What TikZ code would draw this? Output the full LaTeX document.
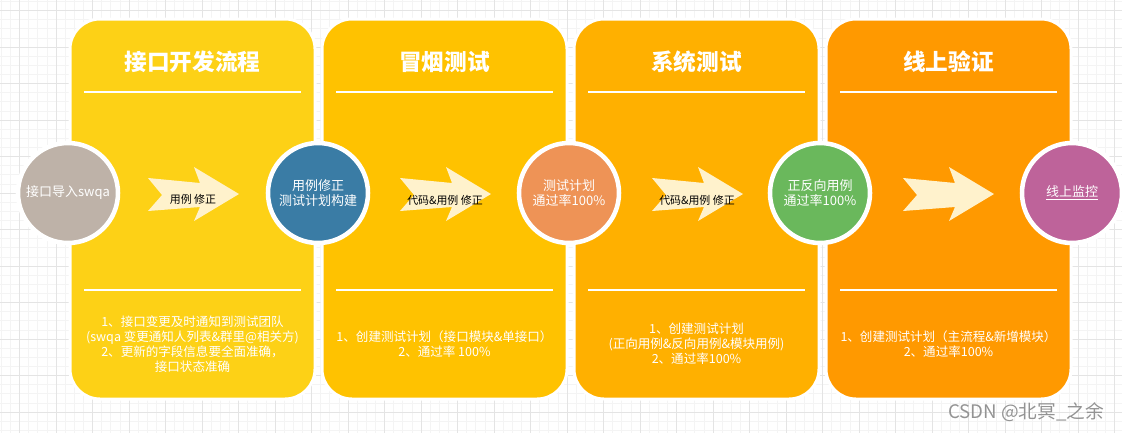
\documentclass[tikz,border=0pt]{standalone}
\usepackage{fontspec}
\setmainfont{Noto Sans CJK SC}
\usetikzlibrary{positioning}
\definecolor{panelA}{RGB}{253,209,22}
\definecolor{panelB}{RGB}{255,194,0}
\definecolor{panelC}{RGB}{255,176,0}
\definecolor{panelD}{RGB}{255,153,0}
\definecolor{stageA}{RGB}{190,178,168}
\definecolor{stageB}{RGB}{58,124,165}
\definecolor{stageC}{RGB}{238,147,86}
\definecolor{stageD}{RGB}{106,184,92}
\definecolor{stageE}{RGB}{190,99,154}
\definecolor{cream}{RGB}{255,242,204}
\definecolor{gridminor}{RGB}{244,244,244}
\definecolor{gridmajor}{RGB}{228,228,228}

\begin{document}
\begin{tikzpicture}[x=0.75pt, y=-0.75pt,
        panel/.style={draw=white, line width=2.25pt, rounded corners=22.5pt},
        ttl/.style={text=white, font=\fontsize{17}{20}\selectfont\bfseries},
        sep/.style={draw=white, line width=1.5pt},
        stage/.style={circle, draw=white, line width=3.4pt, minimum size=75pt, inner sep=0pt,
                      text=white, align=center, font=\fontsize{9.75}{11.25}\selectfont},
        note/.style={text=white, align=center, font=\fontsize{9.4}{11.25}\selectfont},
        chev/.style={fill=cream},
        lbl/.style={text=black, font=\fontsize{8.2}{10}\selectfont}
      ]
      \useasboundingbox (0,0) rectangle (1122,433);
      \fill[white] (0,0) rectangle (1122,433);
      % canvas grid
      \foreach \i in {0,...,122} \draw[gridminor, line width=0.5pt] ({1.25+\i*9.125},0) -- ++(0,433);
      \foreach \i in {0,...,47} \draw[gridminor, line width=0.5pt] (0,{1.375+\i*9.125}) -- ++(1122,0);
      \foreach \i in {0,...,30} \draw[gridmajor, line width=0.6pt] ({19.5+\i*36.5},0) -- ++(0,433);
      \foreach \i in {0,...,11} \draw[gridmajor, line width=0.6pt] (0,{10.5+\i*36.5}) -- ++(1122,0);

      \foreach \px/\col in {70/panelA, 322/panelB, 574/panelC, 826/panelD} {
        \draw[panel, fill=\col] (\px,19) rectangle ++(245,380);
        \draw[sep] (\px+14,92) -- ++(217,0);
        \draw[sep] (\px+14,290) -- ++(217,0);
      }

      \node[ttl] (t1) at (192.5,62) {接口开发流程};
      \node[ttl] (t2) at (444.5,62) {冒烟测试};
      \node[ttl] (t3) at (696.5,62) {系统测试};
      \node[ttl] (t4) at (948.5,62) {线上验证};

      \node[note] (n1) at (192.5,344) {1、接口变更及时通知到测试团队\\(swqa 变更通知人列表\&群里@相关方)\\2、更新的字段信息要全面准确，\\接口状态准确};
      \node[note] (n2) at (444.5,344) {1、创建测试计划（接口模块\&单接口）\\2、通过率 100\%};
      \node[note] (n3) at (696.5,344) {1、创建测试计划\\(正向用例\&反向用例\&模块用例)\\2、通过率100\%};
      \node[note] (n4) at (948.5,344) {1、创建测试计划（主流程\&新增模块）\\2、通过率100\%};

      \foreach \ax in {148,400,652,903}
        \fill[chev] (\ax,178) -- ++(52,5) -- ++(-6,-16) -- ++(45,27) -- ++(-45,27)
                    -- ++(6,-14) -- ++(-52,4) -- ++(14,-16) -- cycle;
      \node[lbl] (a1) at (193,199) {用例 修正};
      \node[lbl] (a2) at (445,200) {代码\&用例 修正};
      \node[lbl] (a3) at (697,200) {代码\&用例 修正};

      \node[stage, fill=stageA] (s1) at (68,193) {接口导入swqa};
      \node[stage, fill=stageB] (s2) at (318,193) {用例修正\\测试计划构建};
      \node[stage, fill=stageC] (s3) at (569,193) {测试计划\\通过率100\%};
      \node[stage, fill=stageD] (s4) at (820,193) {正反向用例\\通过率100\%};
      \node[stage, fill=stageE] (s5) at (1072,193) {\underline{线上监控}};

      \node[text=gray!85, font=\fontsize{14}{16}\selectfont] (wm) at (1026,412) {CSDN @北冥\_之余};
    \end{tikzpicture}
\end{document}
